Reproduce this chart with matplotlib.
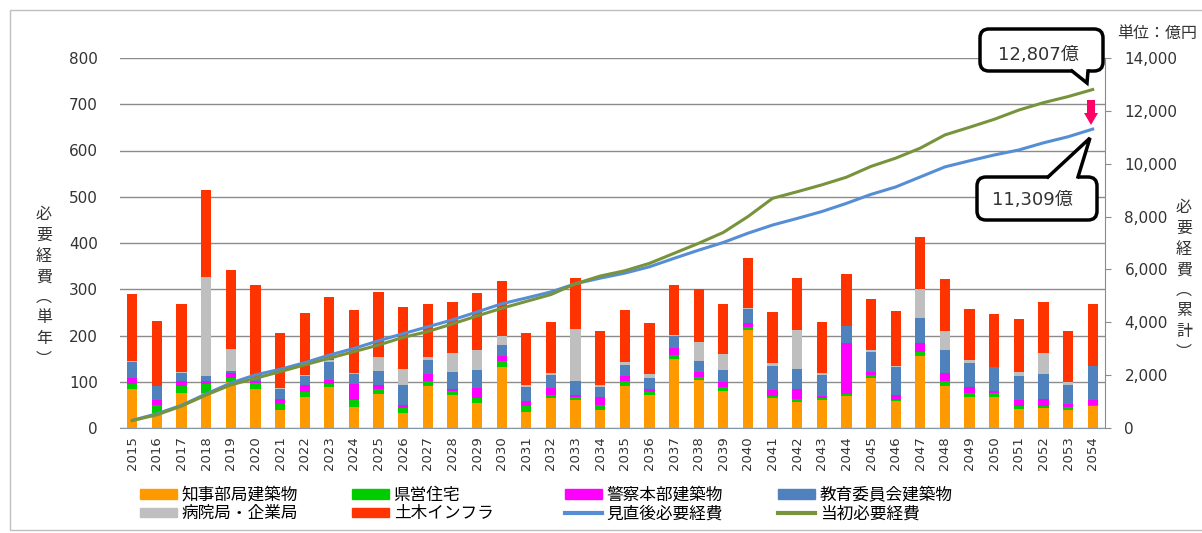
import numpy as np
import matplotlib
matplotlib.use("Agg")
import matplotlib.pyplot as plt
from matplotlib.patches import Patch, FancyBboxPatch, Polygon, Rectangle
from matplotlib.lines import Line2D
from matplotlib.ticker import FuncFormatter
import matplotlib.transforms as mtransforms

plt.rcParams['font.family'] = ['DejaVu Sans', 'Noto Sans CJK JP']

years = [str(y) for y in range(2015, 2055)]

# 単年の必要経費（億円）
chiji = [84, 33, 75, 75, 99, 84, 40, 68, 88, 45, 73, 32, 91, 72, 55, 132, 35, 65, 61, 38,
         90, 72, 150, 104, 81, 212, 65, 56, 60, 70, 109, 58, 156, 90, 67, 67, 41, 43, 40, 48]
kenei = [12, 17, 15, 21, 9, 13, 12, 10, 8, 15, 11, 11, 11, 7, 10, 12, 12, 7, 6, 11,
         11, 5, 7, 6, 7, 7, 5, 7, 4, 3, 6, 3, 9, 11, 9, 9, 7, 4, 5, 2]
keisatsu = [12, 11, 12, 5, 10, 4, 11, 14, 8, 35, 8, 7, 15, 6, 21, 11, 11, 14, 5, 18,
            11, 8, 16, 12, 11, 9, 13, 21, 6, 110, 7, 11, 18, 18, 12, 5, 12, 16, 7, 11]
kyoiku = [34, 29, 18, 11, 6, 10, 21, 21, 38, 22, 32, 44, 30, 37, 40, 25, 30, 29, 29, 21,
          25, 23, 25, 23, 27, 29, 52, 44, 44, 38, 43, 60, 54, 49, 52, 51, 52, 54, 42, 74]
byoin = [2, 0, 2, 215, 46, 0, 2, 2, 4, 3, 29, 33, 6, 41, 43, 18, 6, 5, 113, 4,
         5, 9, 3, 42, 34, 2, 5, 83, 5, 0, 3, 3, 63, 41, 7, 0, 9, 45, 5, 0]
doboku = [145, 142, 147, 187, 171, 198, 120, 134, 138, 135, 140, 134, 116, 109, 123, 120, 112, 109, 110, 117,
          113, 109, 108, 114, 109, 108, 110, 113, 110, 111, 110, 117, 114, 113, 111, 114, 114, 110, 110, 133]

# 累計（億円）
minaoshi = [290, 540, 860, 1290, 1700, 2010, 2220, 2470, 2760, 3010, 3300, 3570, 3830, 4090, 4390,
            4700, 4920, 5150, 5460, 5670, 5860, 6100, 6420, 6730, 7020, 7370, 7680, 7930, 8190, 8500,
            8840, 9120, 9500, 9880, 10110, 10330, 10520, 10790, 11020, 11309]
tosho = [280, 500, 830, 1250, 1630, 1880, 2130, 2390, 2640, 2890, 3140, 3430, 3650, 3940, 4240,
         4530, 4790, 5050, 5460, 5750, 5950, 6230, 6610, 6990, 7400, 8000, 8690, 8940, 9200, 9490,
         9900, 10210, 10590, 11090, 11380, 11680, 12030, 12310, 12540, 12807]

series = [
    ('知事部局建築物', chiji, '#FF9900'),
    ('県営住宅', kenei, '#00CC00'),
    ('警察本部建築物', keisatsu, '#FF00FF'),
    ('教育委員会建築物', kyoiku, '#4F81BD'),
    ('病院局・企業局', byoin, '#BFBFBF'),
    ('土木インフラ', doboku, '#FF3300'),
]
line_blue = '#558ED5'
line_green = '#77933C'
text_col = '#333333'
grid_col = '#8C8C8C'

W, H = 1202, 533
fig = plt.figure(figsize=(W / 100, H / 100), dpi=100)
# pixel coords, origin top-left
T = mtransforms.Affine2D().scale(1 / 100, -1 / 100).translate(0, H / 100) + fig.dpi_scale_trans

ax = fig.add_axes([120 / W, (H - 428) / H, 985 / W, 370 / H])
x = np.arange(len(years))
bottom = np.zeros(len(years))
for name, vals, col in series:
    ax.bar(x, vals, 0.42, bottom=bottom, color=col, label=name, zorder=2)
    bottom += np.array(vals)

ax.set_xlim(-0.5, len(years) - 0.5)
ax.set_ylim(0, 800)
ax.set_yticks(range(0, 801, 100))
ax.set_xticks(x)
ax.set_xticklabels(years, rotation=90, fontsize=9.5, color=text_col)
ax.tick_params(axis='x', length=0, pad=6)
ax.tick_params(axis='y', length=0, pad=16, labelsize=11, labelcolor=text_col)
ax.yaxis.grid(True, color=grid_col, lw=1)
ax.set_axisbelow(True)
for s in ['top', 'left', 'right']:
    ax.spines[s].set_visible(False)
ax.spines['bottom'].set_color('#8497B0')

ax2 = ax.twinx()
ax2.plot(x, minaoshi, color=line_blue, lw=2.2, zorder=3)
ax2.plot(x, tosho, color=line_green, lw=2.2, zorder=3)
ax2.set_ylim(0, 14000)
ax2.set_yticks(range(0, 14001, 2000))
ax2.yaxis.set_major_formatter(FuncFormatter(lambda v, p: f'{int(v):,}'))
ax2.tick_params(axis='y', direction='out', length=4, color=grid_col, pad=10,
                labelsize=11, labelcolor=text_col)
for s in ['top', 'left', 'bottom']:
    ax2.spines[s].set_visible(False)
ax2.spines['right'].set_color(grid_col)

# axis titles
fig.text(44, 287, '\n'.join('必要経費︵単年︶'), transform=T, ha='center', va='center',
         fontsize=11.5, color=text_col, linespacing=1.28, family=['Noto Sans CJK JP'])
fig.text(1184, 280, '\n'.join('必要経費︵累計︶'), transform=T, ha='center', va='center',
         fontsize=11.5, color=text_col, linespacing=1.28, family=['Noto Sans CJK JP'])
fig.text(1117, 33, '単位：億円', transform=T, ha='left', va='center', fontsize=11.5,
         color=text_col, family=['Noto Sans CJK JP'])

# legend (4 columns x 2 rows)
cols = {n: c for n, _, c in series}
legend_cols = [
    (140, [Patch(color=cols['知事部局建築物']), Patch(color=cols['病院局・企業局'])],
     ['知事部局建築物', '病院局・企業局']),
    (352, [Patch(color=cols['県営住宅']), Patch(color=cols['土木インフラ'])],
     ['県営住宅', '土木インフラ']),
    (565, [Patch(color=cols['警察本部建築物']), Line2D([], [], color=line_blue, lw=3)],
     ['警察本部建築物', '見直後必要経費']),
    (778, [Patch(color=cols['教育委員会建築物']), Line2D([], [], color=line_green, lw=3)],
     ['教育委員会建築物', '当初必要経費']),
]
for lx, hs, ls in legend_cols:
    fig.legend(hs, ls, loc='upper left', bbox_to_anchor=(lx / W, 1 - 487 / H),
               frameon=False, handlelength=2.2, handleheight=0.5,
               handletextpad=0.3, labelspacing=0.08, borderpad=0, borderaxespad=0,
               prop={'family': ['Noto Sans CJK JP'], 'size': 12})


def callout(x0, y0, x1, y1, base, tip, text, tx, ty):
    box = FancyBboxPatch((x0, y0), x1 - x0, y1 - y0,
                         boxstyle='round,pad=0,rounding_size=9',
                         fc='white', ec='black', lw=2.5, transform=T)
    fig.add_artist(box)
    by = base[2]
    inset = 2 if by == y1 else -2
    fig.add_artist(Polygon([(base[0], by - inset), tip, (base[1], by - inset)],
                           closed=True, fc='white', ec='none', transform=T))
    fig.add_artist(Line2D([base[0], tip[0], base[1]], [by, tip[1], by],
                          color='black', lw=2.5, transform=T, solid_joinstyle='miter'))
    fig.text(tx, ty, text, transform=T, ha='center', va='center', fontsize=13,
             color=text_col)


callout(980, 29, 1103, 71, (1072, 1088, 71), (1087, 83), '12,807億', 1038, 55)
callout(977, 177, 1097, 220, (1048, 1078, 177), (1090, 138), '11,309億', 1032, 200)

# 減少を示す矢印
ax_x = 1091
fig.add_artist(Polygon([(ax_x - 4, 100), (ax_x + 4, 100), (ax_x + 4, 113), (ax_x + 7, 113),
                        (ax_x, 125), (ax_x - 7, 113), (ax_x - 4, 113)],
                       closed=True, fc='#FF0066', ec='none', transform=T))

# outer frame
fig.add_artist(Rectangle((10, 10), 1215, 520, fill=False, ec='#BFBFBF', lw=1, transform=T))

fig.savefig('out.png', dpi=100)
